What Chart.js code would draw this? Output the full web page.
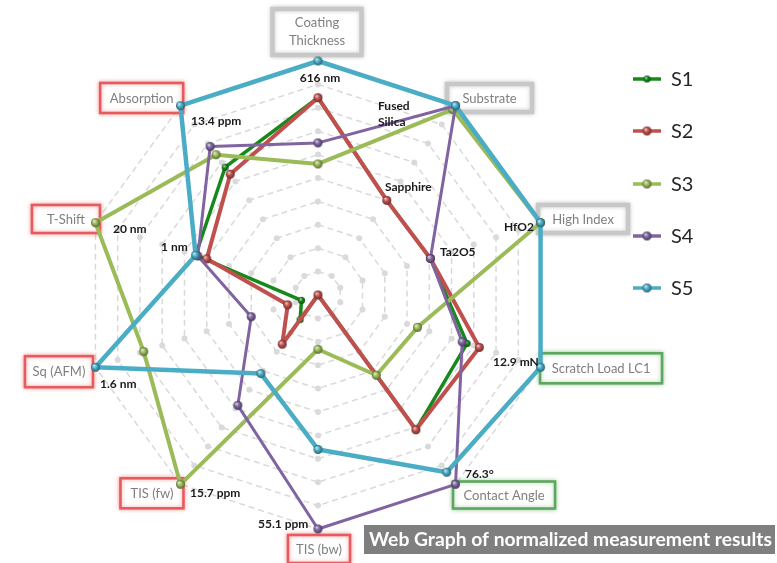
<!DOCTYPE html>
<html><head><meta charset="utf-8">
<script src="https://cdn.jsdelivr.net/npm/chart.js@4.4.0/dist/chart.umd.min.js"></script>
<style>html,body{margin:0;padding:0;background:#fff;overflow:hidden}#wrap{position:relative;width:777px;height:563px}</style>
</head><body><div id="wrap"><canvas id="c" width="777" height="563"></canvas></div>
<script>
// ---- data ----
const categories = ['Coating Thickness','Substrate','High Index','Scratch Load LC1','Contact Angle','TIS (bw)','TIS (fw)','Sq (AFM)','T-Shift','Absorption'];
const categoryGroups = ['gray','gray','gray','green','green','red','red','red','red','red'];
const seriesNames = ['S1','S2','S3','S4','S5'];
const s1Values = [0.843, 0.50, 0.505, 0.67, 0.712, 0.0, 0.13, 0.074, 0.55, 0.675];
const s2Values = [0.843, 0.50, 0.505, 0.725, 0.712, 0.0, 0.26, 0.136, 0.50, 0.638];
const s3Values = [0.56, 0.98, 1.0, 0.447, 0.424, 0.232, 1.0, 0.783, 1.0, 0.741];
const s4Values = [0.65, 1.0, 0.505, 0.648, 1.0, 1.0, 0.583, 0.30, 0.54, 0.784];
const s5Values = [1.0, 1.0, 1.0, 1.0, 0.936, 0.66, 0.415, 1.0, 0.55, 1.0];
const tickValues = [0.1,0.2,0.3,0.4,0.5,0.6,0.7,0.8,0.9,1.0];
const annotationTexts = ['616 nm','Fused','Silica','Sapphire','Ta2O5','HfO2','12.9 mN','76.3°','55.1 ppm','15.7 ppm','1.6 nm','20 nm','1 nm','13.4 ppm'];
const titleText = 'Web Graph of normalized measurement results';

// ---- styles ----
const colors = ['#17891b','#c0504d','#9bbb59','#8064a2','#4bacc6'];
const widths = [3.5, 4, 4, 3, 4.5];
const radii = [3.5, 4.5, 4.5, 4.5, 4.5];
const allValues = [s1Values, s2Values, s3Values, s4Values, s5Values];

function hexToRgb(h){h=h.replace('#','');return [parseInt(h.substr(0,2),16),parseInt(h.substr(2,2),16),parseInt(h.substr(4,2),16)];}
function mix(c, t, f){const a=hexToRgb(c);const b=t==='w'?[255,255,255]:[0,0,0];return 'rgb('+a.map((v,i)=>Math.round(v+(b[i]-v)*f)).join(',')+')';}
function sphere(color, r){
  const s = Math.ceil(2*r+2);
  const cv = document.createElement('canvas'); cv.width=s; cv.height=s;
  const x = cv.getContext('2d'); const c = s/2;
  const g = x.createRadialGradient(c - r*0.35, c - r*0.4, r*0.1, c, c, r);
  g.addColorStop(0, mix(color,'w',0.65));
  g.addColorStop(0.45, color);
  g.addColorStop(1, mix(color,'b',0.45));
  x.fillStyle = g; x.beginPath(); x.arc(c,c,r,0,Math.PI*2); x.fill();
  return cv;
}
const sprites = colors.map((c,i)=>sphere(c, radii[i]));

// label box offsets from vertex (dx, dy, w, h)
const boxGeom = [
  [-1,-29,89,46],[34,-7.7,85,28],[42.5,-3.7,90,28],[60.5,1,122,30],[48.5,10.7,102,27],
  [1,20,62,28],[-28.5,9,63,30],[-36.5,4.4,68,31],[-29.5,-3.7,68,28],[-38.8,-7.7,83,30]
];
// annotation positions relative to centre (dx, dy, align)
const annGeom = [
  [2,-217,'center'],[60,-189,'left'],[60,-173,'left'],[67,-108,'left'],[122,-43,'left'],
  [186,-68,'left'],[175,67,'left'],[147,179,'left'],[-60,229,'left'],[-128,198,'left'],
  [-218,89,'left'],[-205,-66,'left'],[-157,-48,'left'],[-127,-174,'left']
];
const groupStyle = {
  gray:{stroke:'#c8c8c8', lw:4.5, glow:'rgba(120,120,120,0.35)'},
  red:{stroke:'#e65b5e', lw:2.6, glow:'rgba(235,90,90,0.55)'},
  green:{stroke:'#5ea75e', lw:2.6, glow:'rgba(90,165,90,0.5)'}
};

const decor = {
  id:'decor',
  beforeDatasetsDraw(chart){
    const ctx = chart.ctx; const sc = chart.scales.r;
    ctx.save();
    // grid dots
    ctx.fillStyle = '#dadada';
    tickValues.forEach(v=>{
      for(let i=0;i<categories.length;i++){
        const p = sc.getPointPositionForValue(i, v);
        ctx.beginPath(); ctx.arc(p.x,p.y,3,0,Math.PI*2); ctx.fill();
      }
    });
    // label boxes
    categories.forEach((lab,i)=>{
      const p = sc.getPointPositionForValue(i, 1);
      const [dx,dy,w,h] = boxGeom[i];
      const cx = p.x+dx, cy = p.y+dy;
      const st = groupStyle[categoryGroups[i]];
      ctx.save();
      ctx.shadowColor = st.glow; ctx.shadowBlur = 4;
      ctx.fillStyle = '#fff';
      ctx.fillRect(cx-w/2, cy-h/2, w, h);
      ctx.strokeStyle = st.stroke; ctx.lineWidth = st.lw;
      ctx.strokeRect(cx-w/2, cy-h/2, w, h);
      ctx.restore();
      ctx.fillStyle = '#7f7f7f'; ctx.font = '13px Lato'; ctx.textAlign='center'; ctx.textBaseline='middle';
      if (i===0){ ctx.fillText('Coating', cx, cy-9); ctx.fillText('Thickness', cx, cy+9); }
      else ctx.fillText(lab, cx, cy+0.5);
    });
    ctx.restore();
  },
  afterDatasetsDraw(chart){
    const ctx = chart.ctx; const sc = chart.scales.r;
    ctx.save();
    // annotations
    ctx.fillStyle = '#1a1a1a'; ctx.font = 'bold 12px Lato'; ctx.textBaseline='middle';
    annotationTexts.forEach((t,i)=>{
      const [dx,dy,al] = annGeom[i];
      ctx.textAlign = al;
      ctx.fillText(t, sc.xCenter+dx, sc.yCenter+dy);
    });
    // legend
    const ly = [79,131,184,236,288];
    seriesNames.forEach((n,i)=>{
      ctx.strokeStyle = colors[i]; ctx.lineWidth = 3.5;
      ctx.beginPath(); ctx.moveTo(633, ly[i]); ctx.lineTo(661, ly[i]); ctx.stroke();
      const sp = sprites[i]; ctx.drawImage(sp, 647 - sp.width/2, ly[i]-sp.height/2);
      ctx.fillStyle = '#262626'; ctx.font = '20px Lato'; ctx.textAlign='left'; ctx.textBaseline='middle';
      ctx.fillText(n, 671, ly[i]+1);
    });
    // title box
    ctx.fillStyle = '#7f7f7f'; ctx.fillRect(364, 525, 411, 29);
    let fs = 18; ctx.font = 'bold '+fs+'px Lato';
    const tw = ctx.measureText(titleText).width; fs = fs*403/tw; ctx.font = 'bold '+fs.toFixed(2)+'px Lato';
    ctx.fillStyle = '#fff'; ctx.textAlign='left'; ctx.textBaseline='middle';
    ctx.fillText(titleText, 369, 540);
    ctx.restore();
  }
};

new Chart(document.getElementById('c'), {
  type:'radar',
  data:{
    labels: categories,
    datasets: seriesNames.map((n,i)=>({
      label:n, data:allValues[i], borderColor:colors[i], borderWidth:widths[i], fill:false,
      pointStyle: sprites[i], pointRadius: radii[i], pointHoverRadius: radii[i],
      borderJoinStyle:'round', order: 5-i
    }))
  },
  options:{
    responsive:false, animation:false, devicePixelRatio:1,
    layout:{padding:{left:84, top:61, right:224, bottom:33}},
    plugins:{legend:{display:false}, tooltip:{enabled:false}},
    scales:{r:{
      min:0, max:1,
      ticks:{display:false, stepSize:0.1},
      pointLabels:{display:false},
      angleLines:{display:false},
      grid:{circular:false, color:'#d9d9d9', lineWidth:1.5},
      border:{dash:[6,4]}
    }}
  },
  plugins:[decor]
});
</script></body></html>
